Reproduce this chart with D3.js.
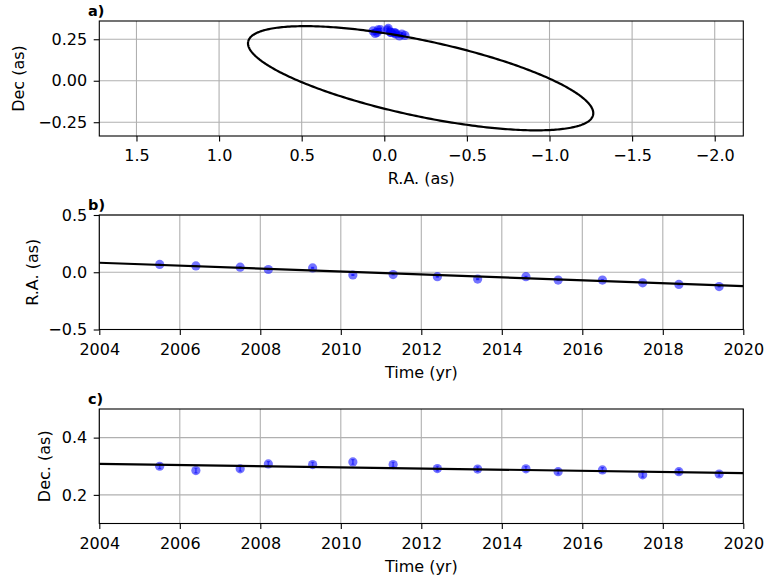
<!DOCTYPE html>
<html>
<head>
<meta charset="utf-8">
<script src="https://cdn.jsdelivr.net/npm/d3@7"></script>
<style>
  body { margin: 0; background: #fff; }
  text { font-family: "DejaVu Sans", sans-serif; }
</style>
</head>
<body>
<svg id="chart" width="765" height="581"></svg>
<script>
// Astrometric epochs (yr) and measured offsets (arcsec)
const epochs     = [2005.5, 2006.4, 2007.5, 2008.2, 2009.3, 2010.3, 2011.3, 2012.4, 2013.4, 2014.6, 2015.4, 2016.5, 2017.5, 2018.4, 2019.4];
const raOffsets  = [0.068, 0.055, 0.044, 0.024, 0.038, -0.024, -0.020, -0.039, -0.060, -0.039, -0.068, -0.068, -0.092, -0.106, -0.125];
const decOffsets = [0.300, 0.285, 0.291, 0.308, 0.306, 0.315, 0.306, 0.292, 0.290, 0.291, 0.281, 0.287, 0.270, 0.281, 0.273];
const raErrors   = [0.004, 0.004, 0.004, 0.004, 0.004, 0.004, 0.004, 0.004, 0.004, 0.004, 0.004, 0.004, 0.004, 0.004, 0.004];
const decErrors  = [0.008, 0.008, 0.008, 0.008, 0.008, 0.008, 0.008, 0.008, 0.008, 0.008, 0.008, 0.008, 0.008, 0.008, 0.008];

// Best-fit model over the plotted time span
const modelYears = [2004, 2020];
const modelRA    = [0.083, -0.122];
const modelDec   = [0.308, 0.276];

// Projected orbit on the sky: centre (RA, Dec), semi-axes, tilt of major axis (deg)
const orbitCenter   = [-0.22, 0.015];
const orbitSemiAxes = [1.067, 0.228];
const orbitTilt     = 11.95;

// Tick values
const raTicks   = [1.5, 1.0, 0.5, 0.0, -0.5, -1.0, -1.5, -2.0];
const decTicksA = [-0.25, 0.0, 0.25];
const raTicksB  = [-0.5, 0.0, 0.5];
const decTicksC = [0.2, 0.4];
const yearTicks = [2004, 2006, 2008, 2010, 2012, 2014, 2016, 2018, 2020];

const svg = d3.select("#chart");
const L = 99.3, R = 743.3;
const FONT = 16;
const GRID = "#b0b0b0";
const PT_FILL = "rgba(0,0,255,0.55)";
const TICK = 5.6;

function panel(opts) {
  const { id, top, bottom, x, y, xTicks, yTicks, xFmt, yFmt, xLabel, yLabel, yLabelX, tag } = opts;
  const g = svg.append("g");
  g.append("clipPath").attr("id", "clip-" + id)
    .append("rect").attr("x", L).attr("y", top).attr("width", R - L).attr("height", bottom - top);

  // grid
  g.append("g").selectAll("line").data(xTicks).join("line")
    .attr("x1", d => x(d)).attr("x2", d => x(d)).attr("y1", top).attr("y2", bottom)
    .attr("stroke", GRID).attr("stroke-width", 1.1);
  g.append("g").selectAll("line").data(yTicks).join("line")
    .attr("y1", d => y(d)).attr("y2", d => y(d)).attr("x1", L).attr("x2", R)
    .attr("stroke", GRID).attr("stroke-width", 1.1);

  const plot = g.append("g").attr("clip-path", `url(#clip-${id})`);

  // axes
  const xa = g.append("g").attr("transform", `translate(0,${bottom})`)
    .call(d3.axisBottom(x).tickValues(xTicks).tickFormat(xFmt).tickSize(TICK).tickPadding(8.5));
  const ya = g.append("g").attr("transform", `translate(${L},0)`)
    .call(d3.axisLeft(y).tickValues(yTicks).tickFormat(yFmt).tickSize(TICK).tickPadding(6.5));
  [xa, ya].forEach(a => {
    a.select(".domain").remove();
    a.selectAll("line").attr("stroke", "#000").attr("stroke-width", 1.1);
    a.selectAll("text").attr("font-size", FONT).attr("fill", "#000")
      .attr("font-family", "DejaVu Sans");
  });

  // frame
  g.append("rect").attr("x", L).attr("y", top).attr("width", R - L).attr("height", bottom - top)
    .attr("fill", "none").attr("stroke", "#000").attr("stroke-width", 1.1);

  g.append("text").attr("x", (L + R) / 2).attr("y", bottom + 48)
    .attr("text-anchor", "middle").attr("font-size", FONT).text(xLabel);
  g.append("text").attr("transform", `translate(${yLabelX},${(top + bottom) / 2}) rotate(-90)`)
    .attr("text-anchor", "middle").attr("dy", "0.35em").attr("font-size", FONT).text(yLabel);
  g.append("text").attr("x", 88).attr("y", top - 5.3)
    .attr("font-size", 14.5).attr("font-weight", "bold").text(tag);
  return plot;
}

function errorPoints(plot, xs, ys, xe, ye, x, y) {
  const pts = xs.map((v, i) => ({ x: v, y: ys[i], xe: xe ? xe[i] : 0, ye: ye ? ye[i] : 0 }));
  const eb = plot.append("g");
  pts.forEach(p => {
    if (p.ye) {
      eb.append("line").attr("x1", x(p.x)).attr("x2", x(p.x))
        .attr("y1", y(p.y - p.ye)).attr("y2", y(p.y + p.ye))
        .attr("stroke", PT_FILL).attr("stroke-width", 1.6);
      [p.y - p.ye, p.y + p.ye].forEach(v => eb.append("line")
        .attr("x1", x(p.x) - 1.6).attr("x2", x(p.x) + 1.6).attr("y1", y(v)).attr("y2", y(v))
        .attr("stroke", PT_FILL).attr("stroke-width", 1.2));
    }
    if (p.xe) {
      eb.append("line").attr("y1", y(p.y)).attr("y2", y(p.y))
        .attr("x1", x(p.x - p.xe)).attr("x2", x(p.x + p.xe))
        .attr("stroke", PT_FILL).attr("stroke-width", 1.6);
    }
  });
  plot.append("g").selectAll("circle").data(pts).join("circle")
    .attr("cx", d => x(d.x)).attr("cy", d => y(d.y)).attr("r", 4.6)
    .attr("fill", PT_FILL);
}

const fmt1 = d3.format(".1f"), fmt2 = d3.format(".2f"), fmtY = d3.format("d");

// a) sky plane
{
  const top = 21, bottom = 136;
  const x = d3.scaleLinear().domain([1.725, -2.173]).range([L, R]);
  const y = d3.scaleLinear().domain([-0.333, 0.36]).range([bottom, top]);
  const plot = panel({ id: "a", top, bottom, x, y, xTicks: raTicks, yTicks: decTicksA,
    xFmt: fmt1, yFmt: fmt2, xLabel: "R.A. (as)", yLabel: "Dec (as)", yLabelX: 18.5, tag: "a)" });
  errorPoints(plot, raOffsets, decOffsets, raErrors, decErrors, x, y);
  const phi = orbitTilt * Math.PI / 180;
  const [a, b] = orbitSemiAxes, [cx, cy] = orbitCenter;
  const orbitPts = d3.range(0, 361, 1).map(t => {
    const th = t * Math.PI / 180;
    return [cx + a * Math.cos(th) * Math.cos(phi) - b * Math.sin(th) * Math.sin(phi),
            cy + a * Math.cos(th) * Math.sin(phi) + b * Math.sin(th) * Math.cos(phi)];
  });
  plot.append("path").datum(orbitPts)
    .attr("d", d3.line().x(d => x(d[0])).y(d => y(d[1])))
    .attr("fill", "none").attr("stroke", "#000").attr("stroke-width", 2.2);
}

// b) R.A. vs time
{
  const top = 215, bottom = 329.5;
  const x = d3.scaleLinear().domain([2004, 2020]).range([L, R]);
  const y = d3.scaleLinear().domain([-0.5, 0.5]).range([bottom, top]);
  const plot = panel({ id: "b", top, bottom, x, y, xTicks: yearTicks, yTicks: raTicksB,
    xFmt: fmtY, yFmt: fmt1, xLabel: "Time (yr)", yLabel: "R.A. (as)", yLabelX: 32, tag: "b)" });
  errorPoints(plot, epochs, raOffsets, null, raErrors, x, y);
  plot.append("path").datum(modelYears.map((t, i) => [t, modelRA[i]]))
    .attr("d", d3.line().x(d => x(d[0])).y(d => y(d[1])))
    .attr("fill", "none").attr("stroke", "#000").attr("stroke-width", 2.2);
}

// c) Dec vs time
{
  const top = 409, bottom = 523.5;
  const x = d3.scaleLinear().domain([2004, 2020]).range([L, R]);
  const y = d3.scaleLinear().domain([0.1, 0.5]).range([bottom, top]);
  const plot = panel({ id: "c", top, bottom, x, y, xTicks: yearTicks, yTicks: decTicksC,
    xFmt: fmtY, yFmt: fmt1, xLabel: "Time (yr)", yLabel: "Dec. (as)", yLabelX: 44, tag: "c)" });
  errorPoints(plot, epochs, decOffsets, null, decErrors, x, y);
  plot.append("path").datum(modelYears.map((t, i) => [t, modelDec[i]]))
    .attr("d", d3.line().x(d => x(d[0])).y(d => y(d[1])))
    .attr("fill", "none").attr("stroke", "#000").attr("stroke-width", 2.2);
}
</script>
</body>
</html>
